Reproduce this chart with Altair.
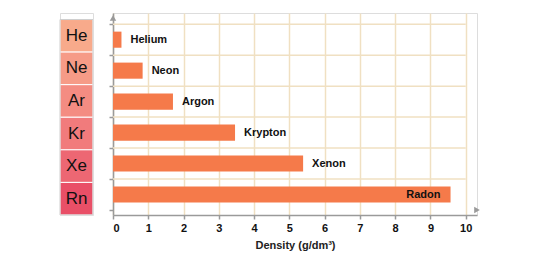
import altair as alt
import pandas as pd

symbols = ["He", "Ne", "Ar", "Kr", "Xe", "Rn"]
names = ["Helium", "Neon", "Argon", "Krypton", "Xenon", "Radon"]
density = [0.24, 0.84, 1.70, 3.46, 5.39, 9.57]
cell_colors = ["#F8AA8B", "#F69B87", "#F48C82", "#F17B7C", "#ED6773", "#E94F67"]
x_ticks = list(range(0, 11))
label_inside = [False, False, False, False, False, True]

n = len(symbols)
df = pd.DataFrame({
    "symbol": symbols,
    "name": names,
    "density": density,
    "color": cell_colors,
    "inside": label_inside,
})
df["center"] = [n - 0.5 - i for i in range(n)]
df["lo"] = df["center"] - 0.5
df["hi"] = df["center"] + 0.5
df["blo"] = df["center"] - 0.26
df["bhi"] = df["center"] + 0.26

XMAX = 10.32
YMAX = n + 0.2
W = 364
H = 202
GRID = "#F0E0C2"
AXIS = "#9A9A9A"
FONT = "Liberation Sans"

yscale = alt.Scale(domain=[0, YMAX], nice=False, zero=False)
xscale = alt.Scale(domain=[0, XMAX], nice=False, zero=False)

xaxis = alt.Axis(values=x_ticks, title="Density (g/dm³)", grid=True,
                 gridColor=GRID, gridWidth=1.5, domainColor=AXIS,
                 domainWidth=1.5, tickColor=AXIS, tickWidth=1.5,
                 tickSize=4, labelFont=FONT, labelFontSize=11,
                 labelFontWeight="bold", labelColor="#111111",
                 labelOverlap=False, labelPadding=3, titleFont=FONT,
                 titleFontSize=11, titleFontWeight="bold",
                 titleColor="#222222", titlePadding=6)
yaxis = alt.Axis(values=list(range(0, n + 1)), labels=False, title=None,
                 grid=False, domainColor=AXIS, domainWidth=1.5,
                 tickColor=AXIS, tickWidth=1.5, tickSize=4)


def X(field):
    return alt.X(field, scale=xscale, axis=xaxis)


def Y(field):
    return alt.Y(field, scale=yscale, axis=yaxis)


# ---- left table of element symbols
cells = alt.Chart(df).mark_rect(stroke="white", strokeWidth=1).encode(
    x=alt.value(0), x2=alt.value(33),
    y=alt.Y("lo:Q", scale=yscale, axis=None), y2="hi:Q",
    fill=alt.Fill("color:N", scale=None),
)
border = alt.Chart(pd.DataFrame({"lo": [0], "hi": [n]})).mark_rect(
    fill=None, stroke="#CFCFCF", strokeWidth=1
).encode(x=alt.value(0), x2=alt.value(33),
         y=alt.Y("lo:Q", scale=yscale, axis=None), y2="hi:Q")
sym_text = alt.Chart(df).mark_text(font=FONT, fontSize=17, color="#111111").encode(
    x=alt.value(16.5),
    y=alt.Y("center:Q", scale=yscale, axis=None),
    text="symbol:N",
)
table = alt.layer(cells, border, sym_text).properties(width=33, height=H)

# ---- main chart
grid_df = pd.DataFrame({"y": list(range(1, n + 1)), "x0": [0] * n, "x1": [10] * n})
hgrid = alt.Chart(grid_df).mark_rule(color=GRID, strokeWidth=1.5).encode(
    x=X("x0:Q"), x2="x1:Q", y=Y("y:Q"),
)
bars = alt.Chart(df).mark_bar(color="#F57A4A", orient="horizontal").encode(
    x=X("density:Q"), x2=alt.value(0), y=Y("blo:Q"), y2="bhi:Q",
)
lab_out = alt.Chart(df).transform_filter("!datum.inside").mark_text(
    font=FONT, fontSize=11, fontWeight="bold", align="left", dx=9, color="#111111"
).encode(x=X("density:Q"), y=Y("center:Q"), text="name:N")
lab_in = alt.Chart(df).transform_filter("datum.inside").mark_text(
    font=FONT, fontSize=11, fontWeight="bold", align="right", dx=-10, color="#111111"
).encode(x=X("density:Q"), y=Y("center:Q"), text="name:N")

arrow_df = pd.DataFrame({"x": [XMAX, 0], "y": [0, YMAX], "shape": ["triangle-right", "triangle-up"]})
arrows = alt.Chart(arrow_df).mark_point(filled=True, color=AXIS, size=42, opacity=1).encode(
    x=X("x:Q"), y=Y("y:Q"),
    shape=alt.Shape("shape:N", scale=None),
)

main = alt.layer(hgrid, bars, lab_out, lab_in, arrows).properties(width=W, height=H)

chart = alt.hconcat(table, main, spacing=13).properties(
    padding={"left": 59, "top": 12, "right": 0, "bottom": 0}
).configure_view(stroke=None).configure(background="white")

chart.save("out.html", embed_options={"renderer": "svg", "actions": False})
